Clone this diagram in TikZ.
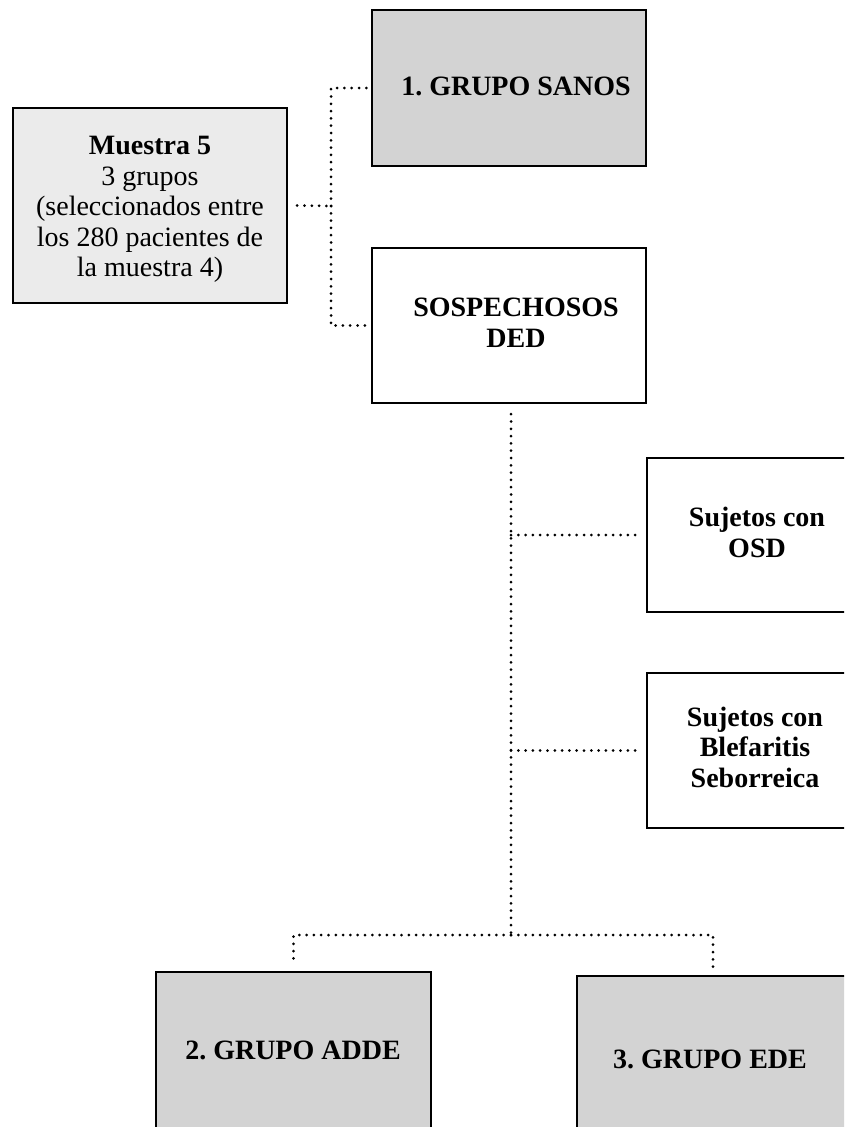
\documentclass[tikz,border=0pt]{standalone}
\usepackage{fontspec}
\setmainfont{Liberation Serif}
\frenchspacing
\definecolor{groupgray}{HTML}{D3D3D3}
\definecolor{samplegray}{HTML}{EBEBEB}
\begin{document}
\begin{tikzpicture}[x=1pt,y=-1pt,
  box/.style={draw=black, line width=2.4pt, rectangle, inner sep=0pt},
  label/.style={font=\fontsize{28}{30.5}\selectfont, align=center, anchor=base, inner sep=0pt},
  boldlabel/.style={label, font=\fontsize{28}{30.5}\selectfont\bfseries},
  dots/.style={line width=3pt, line cap=round, dash pattern=on 0pt off 7.3pt}]
\useasboundingbox (0,0) rectangle (844,1127);
\clip (0,0) rectangle (844,1127);

% boxes
\node[box, fill=samplegray, minimum width=274pt, minimum height=195pt] (muestra) at (150,205.5) {};
\node[box, fill=groupgray, minimum width=274pt, minimum height=156pt] (sanos) at (509,88) {};
\node[box, fill=white, minimum width=274pt, minimum height=155pt] (sosp) at (509,325.5) {};
\node[box, fill=white, minimum width=220pt, minimum height=154pt] (osd) at (757,535) {};
\node[box, fill=white, minimum width=220pt, minimum height=155pt] (blef) at (757,750.5) {};
\node[box, fill=groupgray, minimum width=275pt, minimum height=180pt] (adde) at (293.5,1062) {};
\node[box, fill=groupgray, minimum width=272pt, minimum height=180pt] (ede) at (713,1066) {};

% texts (base anchor sits on the last line)
\node[label] (tmuestra) at (150,276.5) {\textbf{Muestra 5}\\3 grupos\\(seleccionados entre\\los 280 pacientes de\\la muestra 4)};
\node[boldlabel] (tsanos) at (516,95) {1. GRUPO SANOS};
\node[boldlabel] (tsosp) at (516,347) {SOSPECHOSOS\\DED};
\node[boldlabel] (tosd) at (757,557) {Sujetos con\\OSD};
\node[boldlabel] (tblef) at (755,787) {Sujetos con\\Blefaritis\\Seborreica};
\node[boldlabel] (tadde) at (293,1059) {2. GRUPO ADDE};
\node[boldlabel] (tede) at (710,1068) {3. GRUPO EDE};

% junctions
\coordinate (jA) at (331,206);
\coordinate (jB) at (511,935);

% connectors
\draw[dots] ([xshift=9pt]muestra.east) -- (jA);
\draw[dots, shorten >=3pt] (jA) |- (sanos.west);
\draw[dots, shorten >=3pt] (jA) |- (sosp.west);
\draw[dots, shorten <=10pt] (sosp.south -| jB) -- (jB);
\draw[dots, shorten >=8pt] (osd.west -| jB) -- (osd.west);
\draw[dots, shorten >=8pt] (blef.west -| jB) -- (blef.west);
\draw[dots, shorten >=7pt] (jB) -| (adde.north);
\draw[dots, shorten >=7pt] (jB) -| (ede.north);
\end{tikzpicture}
\end{document}
